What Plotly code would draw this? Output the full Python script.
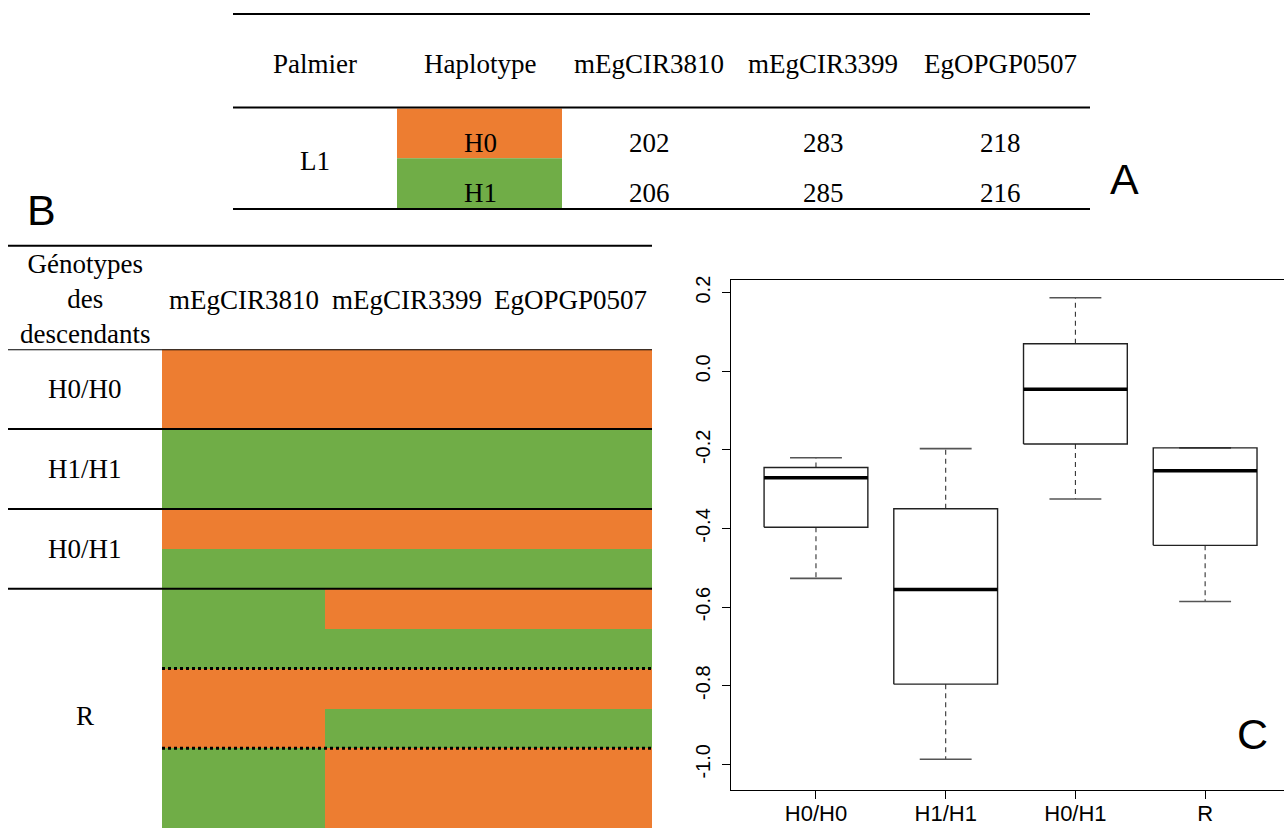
import plotly.graph_objects as go

W, H = 1284, 829
ORANGE = "#ED7D31"
GREEN = "#70AD47"
SERIF = "Liberation Serif, Times New Roman, serif"
SANS = "Liberation Sans, Arial, sans-serif"

# ---------------- Data ----------------
# Panel A: parental haplotypes (allele sizes)
a_headers = ["Palmier", "Haplotype", "mEgCIR3810", "mEgCIR3399", "EgOPGP0507"]
a_palmier = "L1"
a_haplotypes = ["H0", "H1"]
a_mEgCIR3810 = [202, 206]
a_mEgCIR3399 = [283, 285]
a_EgOPGP0507 = [218, 216]

# Panel B: offspring genotypes (0 = H0 allele, 1 = H1 allele)
b_markers = ["mEgCIR3810", "mEgCIR3399", "EgOPGP0507"]
b_groups = ["H0/H0", "H0/H0", "H1/H1", "H1/H1", "H0/H1", "H0/H1",
            "R", "R", "R", "R", "R", "R"]
b_haplo = [
    [0, 0, 0], [0, 0, 0],
    [1, 1, 1], [1, 1, 1],
    [0, 0, 0], [1, 1, 1],
    [1, 0, 0], [1, 1, 1],
    [0, 0, 0], [0, 1, 1],
    [1, 0, 0], [1, 0, 0],
]
b_recomb_pairs = [[6, 7], [8, 9], [10, 11]]

# Panel C: boxplot statistics
c_groups = ["H0/H0", "H1/H1", "H0/H1", "R"]
c_lower = [-0.527, -0.987, -0.325, -0.586]
c_q1 = [-0.397, -0.796, -0.185, -0.443]
c_median = [-0.271, -0.555, -0.046, -0.253]
c_q3 = [-0.245, -0.350, 0.070, -0.195]
c_upper = [-0.220, -0.197, 0.187, -0.195]
c_ticks = [-1.0, -0.8, -0.6, -0.4, -0.2, 0.0, 0.2]


def px(x):
    return x / W


def py(y):
    return 1 - y / H


fig = go.Figure()
shapes = []
ann = []

# ---------------- Panel A (table) ----------------
a_col_x = [315, 480, 649, 823, 1000]
a_row_y = [140, 190]
for yl in [10, 104, 206]:
    shapes.append(dict(type="line", xref="paper", yref="paper",
                       x0=px(233), x1=px(1090), y0=py(yl), y1=py(yl),
                       line=dict(color="black", width=2)))
for k, col in enumerate([ORANGE, GREEN]):
    shapes.append(dict(type="rect", xref="paper", yref="paper", layer="below",
                       x0=px(397), x1=px(562), y0=py(105 + 50 * k), y1=py(155 + 50 * k),
                       fillcolor=col, line=dict(width=0)))
for name, xc in zip(a_headers, a_col_x):
    ann.append(dict(text=name, x=px(xc), y=py(60)))
ann.append(dict(text=a_palmier, x=px(a_col_x[0]), y=py(158)))
for r in range(2):
    ann.append(dict(text=a_haplotypes[r], x=px(a_col_x[1]), y=py(a_row_y[r])))
    for c, vals in enumerate([a_mEgCIR3810, a_mEgCIR3399, a_EgOPGP0507]):
        ann.append(dict(text=str(vals[r]), x=px(a_col_x[2 + c]), y=py(a_row_y[r])))

# ---------------- Panel B (genotype grid) ----------------
fig.add_trace(go.Heatmap(
    z=b_haplo, x=list(range(len(b_markers))), y=list(range(len(b_groups))),
    xaxis="x2", yaxis="y2", zmin=0, zmax=1,
    colorscale=[[0, ORANGE], [0.5, ORANGE], [0.5, GREEN], [1, GREEN]],
    showscale=False, hoverinfo="skip"))

shapes.append(dict(type="line", xref="paper", yref="paper",
                   x0=px(8), x1=px(652), y0=py(243), y1=py(243),
                   line=dict(color="black", width=2)))
shapes.append(dict(type="line", xref="paper", yref="y2",
                   x0=px(8), x1=px(652), y0=-0.5, y1=-0.5,
                   line=dict(color="black", width=2)))
for i in range(1, len(b_groups)):
    if b_groups[i] != b_groups[i - 1]:
        shapes.append(dict(type="line", xref="paper", yref="y2",
                           x0=px(8), x1=px(652), y0=i - 0.5, y1=i - 0.5,
                           line=dict(color="black", width=2)))
for pair in b_recomb_pairs[1:]:
    yb = pair[0] - 0.5
    shapes.append(dict(type="line", xref="x2", yref="y2",
                       x0=-0.5, x1=len(b_markers) - 0.5, y0=yb, y1=yb,
                       line=dict(color="black", width=3, dash="dot")))

ann.append(dict(text="Génotypes<br>des<br>descendants", x=px(85), y=py(296)))
for j, m in enumerate(b_markers):
    ann.append(dict(text=m, x=j, xref="x2", y=py(297)))
seen = []
for g in b_groups:
    if g not in seen:
        seen.append(g)
for g in seen:
    idx = [i for i, gg in enumerate(b_groups) if gg == g]
    yc = (idx[0] + idx[-1]) / 2
    if g == "R":
        yc += 0.2
    ann.append(dict(text=g, x=px(85), y=yc, yref="y2"))

# ---------------- Panel C (boxplots) ----------------
hw, cw = 0.4, 0.2
for i, g in enumerate(c_groups):
    xc = i + 1
    # whiskers (dashed)
    fig.add_trace(go.Scatter(x=[xc, xc], y=[c_q3[i], c_upper[i]], mode="lines",
                             line=dict(color="#333", width=1.1, dash="5px,4px"),
                             hoverinfo="skip", xaxis="x", yaxis="y"))
    fig.add_trace(go.Scatter(x=[xc, xc], y=[c_q1[i], c_lower[i]], mode="lines",
                             line=dict(color="#333", width=1.1, dash="5px,4px"),
                             hoverinfo="skip", xaxis="x", yaxis="y"))
    # staples
    for v in [c_lower[i], c_upper[i]]:
        fig.add_trace(go.Scatter(x=[xc - cw, xc + cw], y=[v, v], mode="lines",
                                 line=dict(color="#555", width=1.6),
                                 hoverinfo="skip", xaxis="x", yaxis="y"))
    # box
    fig.add_trace(go.Scatter(x=[xc - hw, xc + hw, xc + hw, xc - hw, xc - hw],
                             y=[c_q1[i], c_q1[i], c_q3[i], c_q3[i], c_q1[i]],
                             mode="lines", line=dict(color="#222", width=1.4),
                             hoverinfo="skip", xaxis="x", yaxis="y"))
    # median
    fig.add_trace(go.Scatter(x=[xc - hw, xc + hw], y=[c_median[i], c_median[i]],
                             mode="lines", line=dict(color="black", width=3.5),
                             hoverinfo="skip", xaxis="x", yaxis="y"))

# panel letters
for t, x, y in [("A", 1124, 176), ("B", 42, 207), ("C", 1252, 734)]:
    ann.append(dict(text=t, x=px(x), y=py(y), font=dict(family=SANS, size=43, color="black")))

annotations = []
for a in ann:
    d = dict(xref="paper", yref="paper", showarrow=False, xanchor="center", yanchor="middle",
             font=dict(family=SERIF, size=27, color="black"))
    d.update(a)
    annotations.append(d)

fig.update_layout(
    width=W, height=H, margin=dict(l=0, r=0, t=0, b=0),
    paper_bgcolor="white", plot_bgcolor="white", showlegend=False,
    shapes=shapes, annotations=annotations,
    xaxis=dict(domain=[px(731), 1], range=[0.345, 4.608],
               tickvals=[1, 2, 3, 4], ticktext=c_groups,
               ticks="outside", ticklen=8, tickcolor="black", tickwidth=1.2,
               showline=True, linecolor="black", linewidth=1.3, mirror=True,
               showgrid=False, zeroline=False, ticklabelstandoff=-5,
               tickfont=dict(family=SANS, size=22, color="black")),
    yaxis=dict(domain=[py(790), py(277)], range=[-1.0658, 0.2329],
               tickvals=c_ticks, ticktext=["%.1f" % v for v in c_ticks],
               tickangle=-90, ticks="outside", ticklen=8, tickcolor="black", tickwidth=1.2,
               showline=True, linecolor="black", linewidth=1.3,
               showgrid=False, zeroline=False, ticklabelstandoff=4,
               tickfont=dict(family=SANS, size=20, color="black")),
    xaxis2=dict(domain=[px(162), px(652)], range=[-0.5, 2.5], visible=False, anchor="y2"),
    yaxis2=dict(domain=[py(828), py(347)], range=[11.5, -0.5], visible=False, anchor="x2"),
)

fig.write_html("out.html", config={"displayModeBar": False},
               post_script="document.body.style.margin='0';document.body.style.overflow='hidden';")
